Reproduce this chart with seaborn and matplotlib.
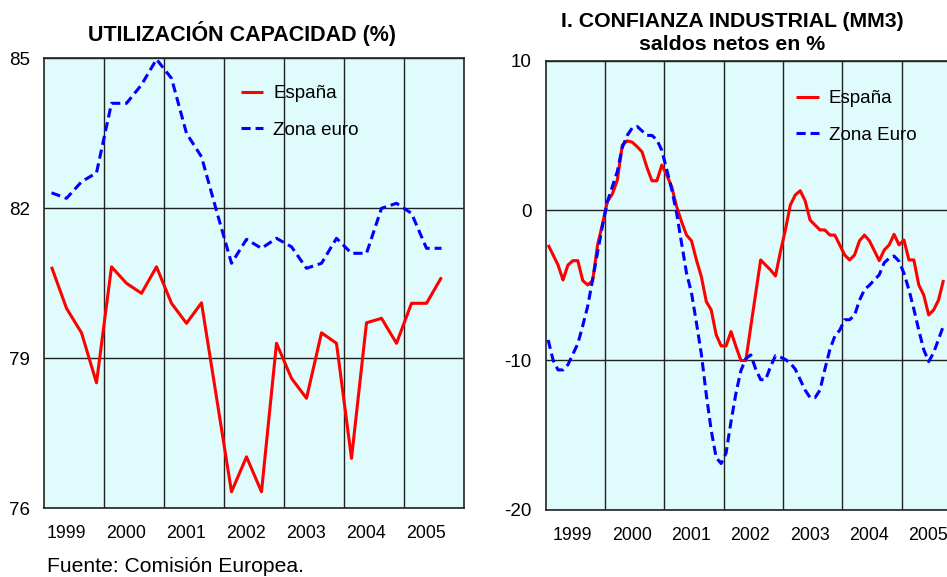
import numpy as np
import pandas as pd
import matplotlib
matplotlib.use("Agg")
import matplotlib.pyplot as plt
import seaborn as sns

# ---------------- data ----------------
# Left chart: capacity utilisation (%), quarterly from 1999Q1
cap_start = "1999Q1"
cap_espana = [80.83, 80.0, 79.51, 78.51, 80.83, 80.5, 80.3, 80.83,
              80.1, 79.7, 80.11, 78.22, 76.33, 77.03, 76.33, 79.3,
              78.6, 78.2, 79.51, 79.3, 77.0, 79.71, 79.8, 79.3,
              80.1, 80.1, 80.62]
cap_zona = [82.31, 82.2, 82.53, 82.71, 84.1, 84.1, 84.47, 84.98,
            84.6, 83.5, 83.03, 81.95, 80.9, 81.38, 81.2, 81.4,
            81.23, 80.8, 80.9, 81.4, 81.1, 81.1, 82.0, 82.1,
            81.9, 81.2, 81.2]

# Right chart: industrial confidence (MM3), monthly from 1999-01
conf_start = "1999-01"
conf_espana = [-2.31, -2.98, -3.65, -4.65, -3.65, -3.36, -3.36, -4.69, -4.98, -4.69,
               -2.31, -0.9, 0.6, 1.1, 2.02, 4.35, 4.64, 4.55, 4.25, 3.9,
               2.85, 1.97, 1.97, 3.02, 2.35, 1.57, 0.24, -0.76, -1.65, -2.03,
               -3.31, -4.43, -6.09, -6.65, -8.31, -9.05, -9.05, -8.09, -9.09, -10.02,
               -10.02, -7.76, -5.53, -3.31, -3.65, -3.98, -4.38, -2.76, -1.31, 0.35,
               1.02, 1.31, 0.64, -0.65, -0.98, -1.31, -1.31, -1.65, -1.65, -2.31,
               -2.98, -3.31, -2.98, -2.03, -1.65, -2.03, -2.69, -3.36, -2.65, -2.31,
               -1.6, -2.31, -1.98, -3.31, -3.31, -4.98, -5.65, -6.98, -6.65, -5.98,
               -4.65]
conf_zona = [-8.65, -10.0, -10.65, -10.65, -10.3, -9.6, -8.9, -7.7, -6.4, -4.6,
             -2.8, -1.0, 0.6, 1.6, 2.6, 4.2, 5.0, 5.5, 5.6, 5.3,
             5.0, 5.0, 4.7, 4.0, 2.7, 1.4, -0.2, -2.2, -4.2, -5.5,
             -7.5, -9.6, -12.3, -14.7, -16.5, -16.9, -16.2, -14.1, -12.2, -10.7,
             -9.9, -9.65, -10.6, -11.3, -11.3, -10.43, -9.7, -9.8, -9.95, -10.2,
             -10.6, -11.3, -12.0, -12.5, -12.5, -12.0, -10.6, -9.3, -8.4, -8.0,
             -7.3, -7.3, -7.0, -6.0, -5.3, -5.0, -4.65, -4.3, -3.5, -3.2,
             -3.05, -3.4, -4.2, -5.3, -6.6, -8.0, -9.3, -10.1, -9.5, -8.6,
             -7.7]

years = [1999, 2000, 2001, 2002, 2003, 2004, 2005]
year_labels = ["1999", "2000", "2001", "2002", "2003", "2004", "2005"]
left_title = "UTILIZACIÓN CAPACIDAD (%)"
right_title = "I. CONFIANZA INDUSTRIAL (MM3)\nsaldos netos en %"
left_legend = ["España", "Zona euro"]
right_legend = ["España", "Zona Euro"]
source = "Fuente: Comisión Europea."

# ---------------- build tables ----------------
q = pd.period_range(cap_start, periods=len(cap_espana), freq="Q")
xq = q.year + (q.quarter - 0.5) / 4.0
df_cap = pd.concat([
    pd.DataFrame({"x": xq, "y": cap_espana, "serie": left_legend[0]}),
    pd.DataFrame({"x": xq, "y": cap_zona, "serie": left_legend[1]}),
])

m = pd.period_range(conf_start, periods=len(conf_espana), freq="M")
xm = m.year + (m.month - 0.5) / 12.0
df_conf = pd.concat([
    pd.DataFrame({"x": xm, "y": conf_espana, "serie": right_legend[0]}),
    pd.DataFrame({"x": xm, "y": conf_zona, "serie": right_legend[1]}),
])

# ---------------- style ----------------
sns.set_style("white")
plt.rcParams["font.family"] = ["Liberation Sans", "DejaVu Sans"]
plt.rcParams["axes.unicode_minus"] = False
for k in ["text.color", "axes.labelcolor", "xtick.color", "ytick.color"]:
    plt.rcParams[k] = "#000000"

RED = "#FF0000"
BLUE = "#0000FF"
BG = "#E0FBFB"
LW = 2.2

W, H = 947, 577
fig = plt.figure(figsize=(W / 100, H / 100), dpi=100)


def px_axes(l, r, t, b):
    return fig.add_axes([l / W, 1 - b / H, (r - l) / W, (b - t) / H])


ax1 = px_axes(44, 464, 58.3, 508.3)
ax2 = px_axes(545.7, 960.8, 60.5, 510)


def draw(ax, df, names, ylim, yticks, label_off, leg_anchor):
    ax.set_facecolor(BG)
    sns.lineplot(data=df, x="x", y="y", hue="serie", style="serie",
                 hue_order=names, style_order=names,
                 palette=[RED, BLUE], dashes=[(1, 0), (3, 1.6)],
                 linewidth=LW, ax=ax, legend=True, zorder=3)
    ax.set_xlim(1999, 2006)
    ax.set_ylim(*ylim)
    ax.set_yticks(yticks)
    ax.set_xticks([y + label_off for y in years])
    ax.set_xticklabels(year_labels)
    ax.set_xticks(years[1:], minor=True)
    ax.tick_params(axis="both", which="both", length=0, colors="#000000")
    ax.tick_params(axis="x", labelsize=12.8, pad=12)
    ax.tick_params(axis="y", labelsize=13.5, pad=10)
    ax.grid(False)
    ax.grid(True, which="minor", axis="x", color="#222222", lw=1.0)
    ax.grid(True, which="major", axis="y", color="#222222", lw=1.0)
    for s in ax.spines.values():
        s.set_visible(True)
        s.set_color("#222222")
        s.set_linewidth(1.2)
    ax.set_xlabel("")
    ax.set_ylabel("")
    leg = ax.legend(loc="upper left", bbox_to_anchor=leg_anchor, frameon=False,
                    fontsize=13.5, handlelength=1.2, handletextpad=0.55,
                    labelspacing=1.05, borderaxespad=0, borderpad=0)
    for h in leg.get_lines():
        h.set_linewidth(LW)
    for t in leg.get_texts():
        t.set_color("#000000")


draw(ax1, df_cap, left_legend, (76, 85), [76, 79, 82, 85], 0.37,
     ((240.5 - 44) / 420, 1 - (85 - 58.3) / 450))
draw(ax2, df_conf, right_legend, (-20, 10), [-20, -10, 0, 10], 0.45,
     ((796 - 545.7) / 415.1, 1 - (90 - 60.5) / 449.5))

fig.text(242 / W, 1 - 33 / H, left_title, ha="center", va="center",
         fontsize=15.5, fontweight="bold")
fig.text(732.5 / W, 1 - 33 / H, right_title, ha="center", va="center",
         fontsize=15.3, fontweight="bold", linespacing=1.25)
fig.text(47 / W, 1 - 567 / H, source, ha="left", va="center", fontsize=15.2)

fig.savefig("out.png", dpi=100)
